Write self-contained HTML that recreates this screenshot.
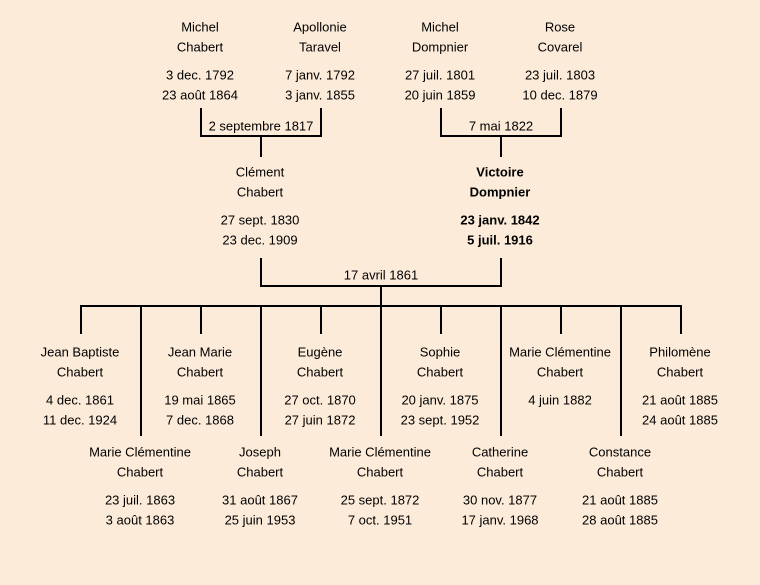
<!DOCTYPE html>
<html><head><meta charset="utf-8"><style>
html,body{margin:0;padding:0;background:#fcebd9;}
svg{display:block;}
text{font-family:"Liberation Sans","DejaVu Sans",sans-serif;font-size:13px;fill:#000;text-anchor:middle;dominant-baseline:central;}
.b{font-weight:bold;}
</style></head><body>
<svg width="760" height="585" viewBox="0 0 760 585">
<rect width="760" height="585" fill="#fcebd9"/>
<g stroke="#000" stroke-width="2" fill="none">
<polyline points="201,108 201,136 321,136 321,108"/>
<line x1="261" y1="136" x2="261" y2="157"/>
<polyline points="441,108 441,136 561,136 561,108"/>
<line x1="501" y1="136" x2="501" y2="157"/>
<polyline points="261,258 261,286 501,286 501,258"/>
<line x1="381" y1="286" x2="381" y2="306"/>
<line x1="80" y1="306" x2="682" y2="306"/>
<line x1="81" y1="306" x2="81" y2="334"/>
<line x1="201" y1="306" x2="201" y2="334"/>
<line x1="321" y1="306" x2="321" y2="334"/>
<line x1="441" y1="306" x2="441" y2="334"/>
<line x1="561" y1="306" x2="561" y2="334"/>
<line x1="681" y1="306" x2="681" y2="334"/>
<line x1="141" y1="306" x2="141" y2="436"/>
<line x1="261" y1="306" x2="261" y2="436"/>
<line x1="381" y1="306" x2="381" y2="436"/>
<line x1="501" y1="306" x2="501" y2="436"/>
<line x1="621" y1="306" x2="621" y2="436"/>
</g>
<rect x="204" y="117" width="114" height="17" fill="#fcebd9"/>
<text x="261" y="126">2 septembre 1817</text>
<text x="501" y="126">7 mai 1822</text>
<text x="381" y="275">17 avril 1861</text>

<text x="200" y="27">Michel</text><text x="200" y="47">Chabert</text><text x="200" y="75">3 dec. 1792</text><text x="200" y="95">23 août 1864</text>
<text x="320" y="27">Apollonie</text><text x="320" y="47">Taravel</text><text x="320" y="75">7 janv. 1792</text><text x="320" y="95">3 janv. 1855</text>
<text x="440" y="27">Michel</text><text x="440" y="47">Dompnier</text><text x="440" y="75">27 juil. 1801</text><text x="440" y="95">20 juin 1859</text>
<text x="560" y="27">Rose</text><text x="560" y="47">Covarel</text><text x="560" y="75">23 juil. 1803</text><text x="560" y="95">10 dec. 1879</text>

<text x="260" y="172">Clément</text><text x="260" y="192">Chabert</text><text x="260" y="220">27 sept. 1830</text><text x="260" y="240">23 dec. 1909</text>
<text class="b" x="500" y="172">Victoire</text><text class="b" x="500" y="192">Dompnier</text><text class="b" x="500" y="220">23 janv. 1842</text><text class="b" x="500" y="240">5 juil. 1916</text>

<text x="80" y="352">Jean Baptiste</text><text x="80" y="372">Chabert</text><text x="80" y="400">4 dec. 1861</text><text x="80" y="420">11 dec. 1924</text>
<text x="200" y="352">Jean Marie</text><text x="200" y="372">Chabert</text><text x="200" y="400">19 mai 1865</text><text x="200" y="420">7 dec. 1868</text>
<text x="320" y="352">Eugène</text><text x="320" y="372">Chabert</text><text x="320" y="400">27 oct. 1870</text><text x="320" y="420">27 juin 1872</text>
<text x="440" y="352">Sophie</text><text x="440" y="372">Chabert</text><text x="440" y="400">20 janv. 1875</text><text x="440" y="420">23 sept. 1952</text>
<text x="560" y="352">Marie Clémentine</text><text x="560" y="372">Chabert</text><text x="560" y="400">4 juin 1882</text>
<text x="680" y="352">Philomène</text><text x="680" y="372">Chabert</text><text x="680" y="400">21 août 1885</text><text x="680" y="420">24 août 1885</text>

<text x="140" y="452">Marie Clémentine</text><text x="140" y="472">Chabert</text><text x="140" y="500">23 juil. 1863</text><text x="140" y="520">3 août 1863</text>
<text x="260" y="452">Joseph</text><text x="260" y="472">Chabert</text><text x="260" y="500">31 août 1867</text><text x="260" y="520">25 juin 1953</text>
<text x="380" y="452">Marie Clémentine</text><text x="380" y="472">Chabert</text><text x="380" y="500">25 sept. 1872</text><text x="380" y="520">7 oct. 1951</text>
<text x="500" y="452">Catherine</text><text x="500" y="472">Chabert</text><text x="500" y="500">30 nov. 1877</text><text x="500" y="520">17 janv. 1968</text>
<text x="620" y="452">Constance</text><text x="620" y="472">Chabert</text><text x="620" y="500">21 août 1885</text><text x="620" y="520">28 août 1885</text>
</svg>
</body></html>
